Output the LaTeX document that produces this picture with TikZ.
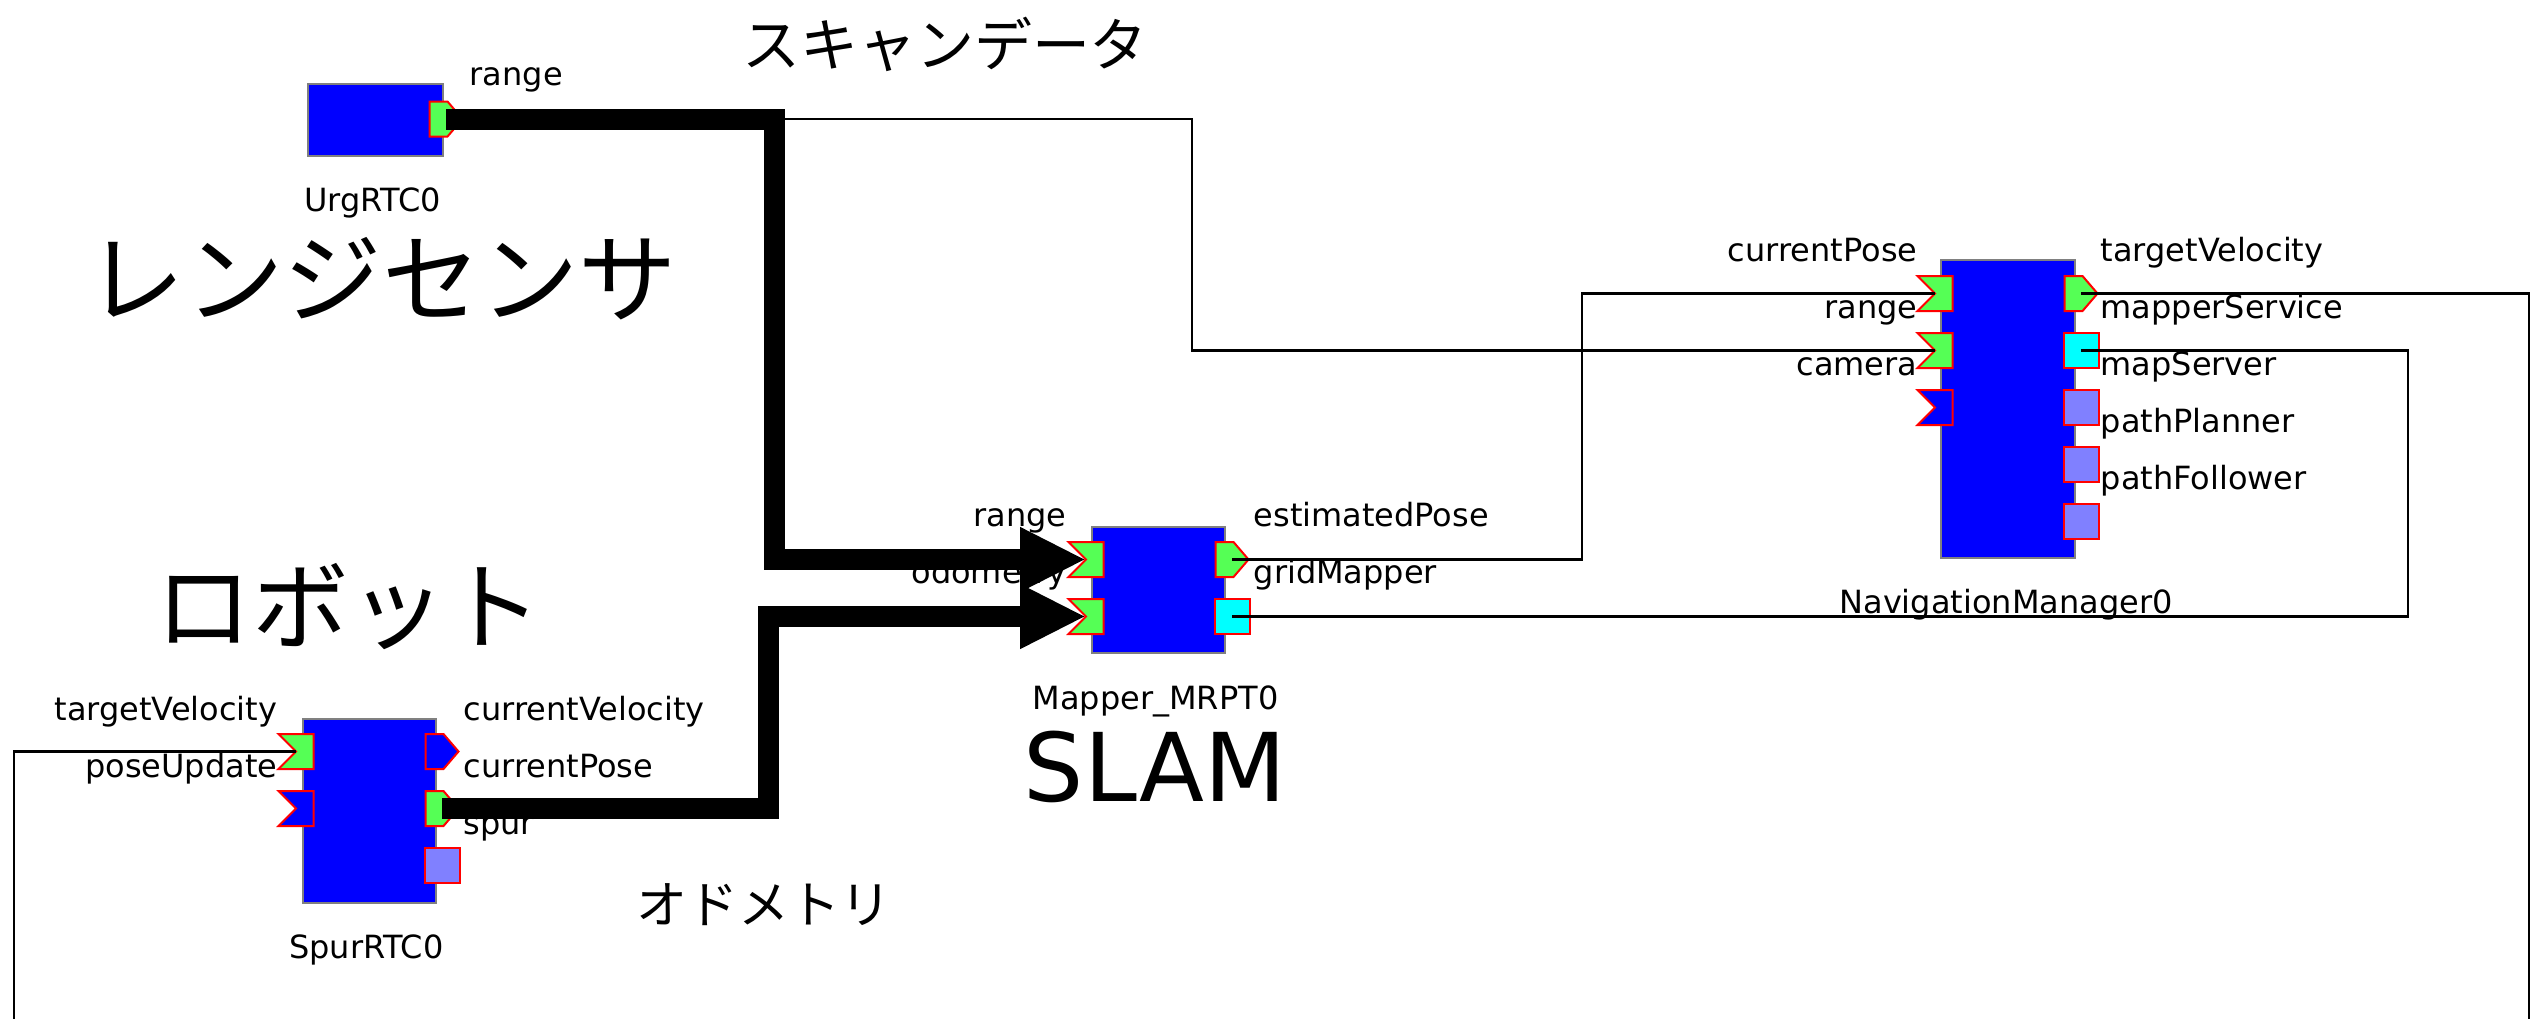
\documentclass[tikz,border=0pt]{standalone}
\usepackage{fontspec}
\setmainfont{DejaVu Sans}
\newfontfamily\jpfont{Noto Sans CJK JP}
\usetikzlibrary{arrows.meta}

\definecolor{compblue}{RGB}{0,0,255}
\definecolor{compgray}{RGB}{128,128,128}
\definecolor{portred}{RGB}{255,0,0}
\definecolor{portgreen}{RGB}{85,255,85}
\definecolor{portcyan}{RGB}{0,255,255}
\definecolor{portlilac}{RGB}{128,128,255}

\tikzset{
  comp/.style={draw=compgray,line width=0.2mm,fill=compblue,inner sep=0},
  port/.style={draw=portred,line width=0.2mm},
  pics/inport/.style={code={
    \path[port,fill=#1] (-17.5,-17.5) -- (17.5,-17.5) -- (17.5,17.5) -- (-17.5,17.5) -- (0,0) -- cycle;
    \coordinate (-c) at (0,0);}},
  pics/inport/.default=portgreen,
  pics/outport/.style={code={
    \path[port,fill=#1] (-16.5,-17.5) -- (1.5,-17.5) -- (16.5,0) -- (1.5,17.5) -- (-16.5,17.5) -- cycle;
    \coordinate (-c) at (0,0);}},
  pics/outport/.default=portgreen,
  pics/svcport/.style={code={
    \path[port,fill=#1] (-17.5,-17.5) rectangle (17.5,17.5);
    \coordinate (-c) at (0,0);}},
  pics/svcport/.default=portlilac,
  lbl/.style={font=\fontsize{9.1}{11}\selectfont,inner sep=0},
  wire/.style={line width=0.25mm},
  flow/.style={line width=2.1mm,-{Triangle[length=6.6mm,width=6mm]}},
}

\begin{document}
\begin{tikzpicture}[x=0.1mm,y=-0.1mm]
\fill[white] (0,0) rectangle (2539,1019);
% Components
\node[comp,minimum width=13.5mm,minimum height=7.2mm] (urg) at (375.5,120) {};
\node[comp,minimum width=13.3mm,minimum height=18.4mm] (spur) at (369.5,811) {};
\node[comp,minimum width=13.3mm,minimum height=12.6mm] (map) at (1158.5,590) {};
\node[comp,minimum width=13.4mm,minimum height=29.8mm] (nav) at (2008,409) {};
% Ports
\pic (urg-o1) at ([shift={(2,36)}]urg.north east) {outport};
\pic (spur-i1) at ([shift={(-6,33.5)}]spur.north west) {inport};
\pic (spur-i2) at ([shift={(-6,90.5)}]spur.north west) {inport=compblue};
\pic (spur-o1) at ([shift={(5,33.5)}]spur.north east) {outport=compblue};
\pic (spur-o2) at ([shift={(5,90.5)}]spur.north east) {outport};
\pic (spur-o3) at ([shift={(5,147.5)}]spur.north east) {svcport};
\foreach \i in {1,2}
  \pic (map-i\i) at ([shift={(-5,{33.5+57*(\i-1)})}]map.north west) {inport};
\pic (map-o1) at ([shift={(6,33.5)}]map.north east) {outport};
\pic (map-o2) at ([shift={(6,90.5)}]map.north east) {svcport=portcyan};
\pic (nav-i1) at ([shift={(-5,34.5)}]nav.north west) {inport};
\pic (nav-i2) at ([shift={(-5,91.5)}]nav.north west) {inport};
\pic (nav-i3) at ([shift={(-5,148.5)}]nav.north west) {inport=compblue};
\pic (nav-o1) at ([shift={(5,34.5)}]nav.north east) {outport};
\pic (nav-o2) at ([shift={(5,91.5)}]nav.north east) {svcport=portcyan};
\foreach \i in {3,4,5}
  \pic (nav-o\i) at ([shift={(5,{34.5+57*(\i-1)})}]nav.north east) {svcport};
% Port names
\node[lbl,anchor=base west] (urg-ol1) at ([shift={(25,2)}]urg.north east) {range};
\foreach \t [count=\i] in {targetVelocity,poseUpdate}
  \node[lbl,anchor=base east] (spur-il\i) at ([shift={(-24,{2+57*(\i-1)})}]spur.north west) {\t};
\foreach \t [count=\i] in {currentVelocity,currentPose,spur}
  \node[lbl,anchor=base west] (spur-ol\i) at ([shift={(26,{2+57*(\i-1)})}]spur.north east) {\t};
\foreach \t [count=\i] in {range,odometry}
  \node[lbl,anchor=base east] (map-il\i) at ([shift={(-24,{0+57*(\i-1)})}]map.north west) {\t};
\foreach \t [count=\i] in {estimatedPose,gridMapper}
  \node[lbl,anchor=base west] (map-ol\i) at ([shift={(27,{0+57*(\i-1)})}]map.north east) {\t};
\foreach \t [count=\i] in {currentPose,range,camera}
  \node[lbl,anchor=base east] (nav-il\i) at ([shift={(-22,{2+57*(\i-1)})}]nav.north west) {\t};
\foreach \t [count=\i] in {targetVelocity,mapperService,mapServer,pathPlanner,pathFollower}
  \node[lbl,anchor=base west] (nav-ol\i) at ([shift={(24,{2+57*(\i-1)})}]nav.north east) {\t};
% Component names
\node[lbl,anchor=base] (urg-name) at ([shift={(-3,54)}]urg.south) {UrgRTC0};
\node[lbl,anchor=base] (spur-name) at ([shift={(-3,54)}]spur.south) {SpurRTC0};
\node[lbl,anchor=base] (map-name) at ([shift={(-3,55)}]map.south) {Mapper\_MRPT0};
\node[lbl,anchor=base] (nav-name) at ([shift={(-2,54)}]nav.south) {NavigationManager0};
% Captions
\node[font=\jpfont\fontsize{16.5}{20}\selectfont] (scan) at (945,44) {スキャンデータ};
\node[font=\jpfont\fontsize{28}{32}\selectfont] (sensor) at (382,279) {レンジセンサ};
\node[font=\jpfont\fontsize{27.5}{32}\selectfont] (robot) at (349,607) {ロボット};
\node[font=\jpfont\fontsize{14.5}{18}\selectfont] (odom) at (764,905) {オドメトリ};
\node[font=\fontsize{27}{32}\selectfont,anchor=base] (slam) at (1155,801) {SLAM};
% Thin connectors
\coordinate (loopR) at (2529,1019);
\coordinate (loopL) at (14,1019);
\draw[wire] (urg-o1-c) -| (1192,0 |- nav-i2-c) -- (nav-i2-c);
\draw[wire] (map-o1-c) -| (1582,0 |- nav-i1-c) -- (nav-i1-c);
\draw[wire] (nav-o2-c) -| (2408,0 |- map-o2-c) -- (map-o2-c);
\draw[wire] (nav-o1-c) -| (loopR);
\draw[wire] (spur-i1-c) -| (loopL);
% Thick data flows
\draw[flow] (urg-o1-c) -| (774,0 |- map-i1-c) -- (map-i1-c);
\draw[flow] (spur-o2-c) -| (768,0 |- map-i2-c) -- (map-i2-c);
\end{tikzpicture}
\end{document}
